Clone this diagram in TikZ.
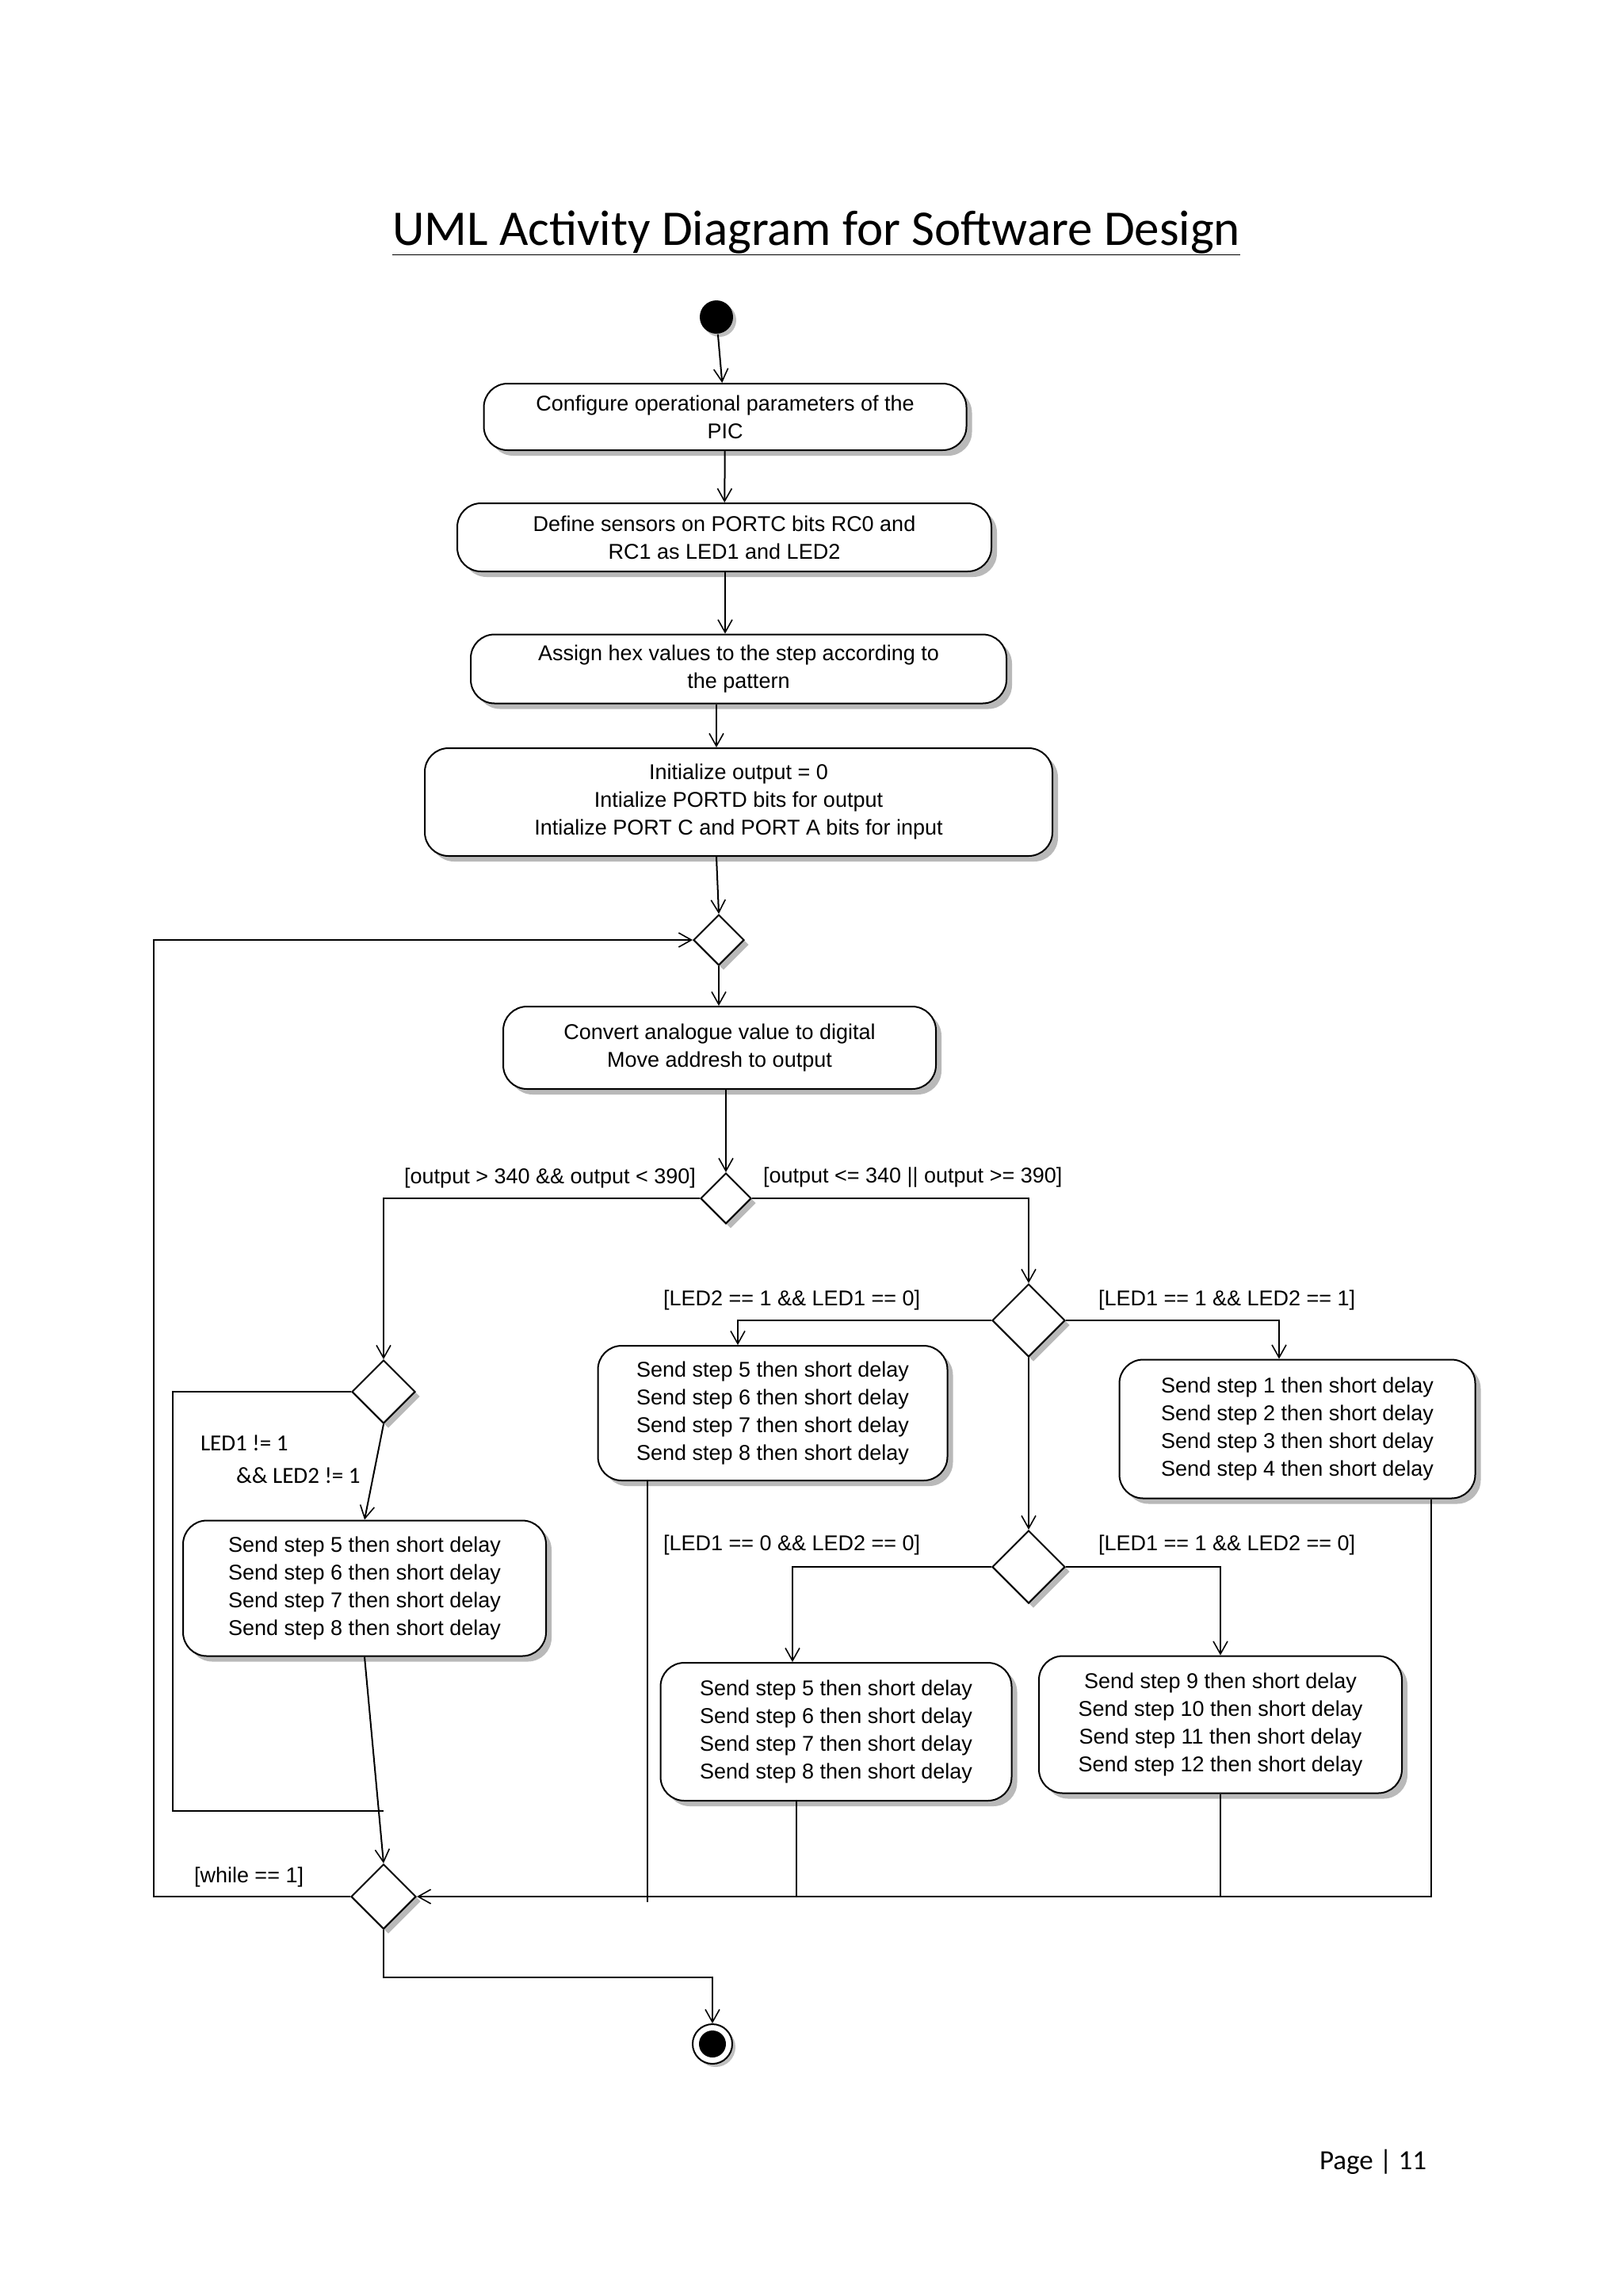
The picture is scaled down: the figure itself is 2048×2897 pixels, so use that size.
\documentclass[tikz,border=0pt]{standalone}
\usepackage{fontspec}
\setmainfont{Liberation Sans}
\newfontfamily\calib{Carlito}
\usetikzlibrary{arrows.meta,shadows,shapes.geometric}
\begin{document}
\begin{tikzpicture}[x=1pt,y=-1pt,line width=2pt,
  act/.style={draw,fill=white,rounded corners=30pt,align=center,inner sep=0pt,
    drop shadow={shadow xshift=7pt,shadow yshift=-7pt,fill=gray!55,opacity=1},
    font=\fontsize{27}{35}\selectfont},
  dia/.style={draw,fill=white,diamond,inner sep=0pt,minimum width=#1,minimum height=#1,
    drop shadow={shadow xshift=6pt,shadow yshift=-6pt,fill=gray!55,opacity=1}},
  arr/.style={-{Straight Barb[length=16pt,width=18pt,line width=1.6pt]}},
  lbl/.style={font=\fontsize{27}{33}\selectfont,inner sep=0pt}]
\useasboundingbox (0,0) rectangle (2048,2897);
\node[font=\calib\fontsize{63}{70}\selectfont] (title) at (1030,294) {\underline{UML Activity Diagram for Software Design}};
\node[circle,fill=black,minimum size=42pt,inner sep=0pt,drop shadow={shadow xshift=4pt,shadow yshift=-4pt,fill=gray!50,opacity=1}] (start) at (904,400) {};
\node[act,minimum width=609pt,minimum height=84pt] (b1) at (915,526) {Configure operational parameters of the\\PIC};
\node[act,minimum width=674pt,minimum height=86pt] (b2) at (914,678) {Define sensors on PORTC bits RC0 and\\RC1 as LED1 and LED2};
\node[act,minimum width=676pt,minimum height=87pt] (b3) at (932,844) {Assign hex values to the step according to\\the pattern};
\node[act,minimum width=792pt,minimum height=136pt] (b4) at (932,1012) {Initialize output = 0\\Intialize PORTD bits for output\\Intialize PORT C and PORT A bits for input};
\node[dia=64pt] (mg) at (907,1186) {};
\node[act,minimum width=546pt,minimum height=104pt] (b5) at (908,1322) {Convert analogue value to digital\\Move addresh to output};
\node[dia=64pt] (d1) at (916,1512) {};
\node[dia=80pt] (dl) at (484,1756) {};
\node[dia=92pt] (d2) at (1298,1666) {};
\node[dia=92pt] (d3) at (1298,1977) {};
\node[dia=82pt] (fd) at (484,2393) {};
\node[act,minimum width=458pt,minimum height=171pt] (bl) at (460,2004) {Send step 5 then short delay\\Send step 6 then short delay\\Send step 7 then short delay\\Send step 8 then short delay};
\node[act,minimum width=441pt,minimum height=170pt] (m1) at (975,1783) {Send step 5 then short delay\\Send step 6 then short delay\\Send step 7 then short delay\\Send step 8 then short delay};
\node[act,minimum width=449pt,minimum height=175pt] (r1) at (1637,1803) {Send step 1 then short delay\\Send step 2 then short delay\\Send step 3 then short delay\\Send step 4 then short delay};
\node[act,minimum width=443pt,minimum height=174pt] (m2) at (1055,2185) {Send step 5 then short delay\\Send step 6 then short delay\\Send step 7 then short delay\\Send step 8 then short delay};
\node[act,minimum width=458pt,minimum height=173pt] (r2) at (1540,2176) {Send step 9 then short delay\\Send step 10 then short delay\\Send step 11 then short delay\\Send step 12 then short delay};
\node[circle,draw,fill=white,minimum size=50pt,inner sep=0pt,drop shadow={shadow xshift=4pt,shadow yshift=-4pt,fill=gray!50,opacity=1}] (end) at (899,2579) {};
\fill (end.center) circle (17pt);
% labels
\node[lbl,anchor=east] (l1) at (879,1486) {[output > 340 \&\& output < 390]};
\node[lbl,anchor=west] (l2) at (962,1486) {[output <= 340 || output >= 390]};
\node[lbl,anchor=west] (l3) at (836,1640) {[LED2 == 1 \&\& LED1 == 0]};
\node[lbl,anchor=west] (l4) at (1385,1640) {[LED1 == 1 \&\& LED2 == 1]};
\node[lbl,anchor=west] (l5) at (836,1949) {[LED1 == 0 \&\& LED2 == 0]};
\node[lbl,anchor=west] (l6) at (1385,1949) {[LED1 == 1 \&\& LED2 == 0]};
\node[lbl,anchor=west] (l7) at (244,2368) {[while == 1]};
\node[lbl,anchor=west,font=\calib\fontsize{29}{35}\selectfont] (l8) at (252,1821) {LED1 != 1};
\node[lbl,anchor=west,font=\calib\fontsize{29}{35}\selectfont] (l9) at (297,1862) {\&\& LED2 != 1};
\node[lbl,anchor=west,font=\calib\fontsize{35}{40}\selectfont] (pg) at (1664,2728) {Page | 11};
% coordinates
\coordinate (tl) at (194,1186);
\coordinate (bl0) at (194,2393);
\coordinate (lp1) at (218,1756);
\coordinate (lp2) at (218,2285);
\coordinate (lp3) at (484,2285);
\coordinate (fb) at (484,2495);
% connectors
\draw[arr] (start) -- (b1);
\draw[arr] (b1) -- (b2);
\draw[arr] (b2.south -| b1.south) -- (b3.north -| b1.south);
\draw[arr] (b3.south -| start) -- (b4.north -| start);
\draw[arr] (b4.south -| start) -- (mg.north);
\draw[arr] (mg) -- (b5.north -| mg);
\draw[arr] (b5.south -| d1) -- (d1.north);
\draw[arr] (d1.west) -| (dl.north);
\draw[arr] (d1.east) -| (d2.north);
\draw[arr] (d2.west) -| ([xshift=-44pt]m1.north);
\draw[arr] (d2.east) -| ([xshift=-23pt]r1.north);
\draw[arr] (d2.south) -- (d3.north);
\draw[arr] (d3.west) -| ([xshift=-55pt]m2.north);
\draw[arr] (d3.east) -| (r2.north);
\draw[arr] (dl.south) -- (bl.north);
\draw (dl.west) -- (lp1) -- (lp2) -- (lp3);
\draw[arr] (bl.south) -- (fd.north);
\draw[arr] (fd.west) -- (bl0) -- (tl) -- (mg.west);
\draw[arr] ([xshift=169pt]r1.south) |- (fd.east);
\draw ([xshift=-158pt]m1.south) -- ++(0,531);
\draw ([xshift=-50pt]m2.south) -- ++(0,121);
\draw (r2.south) -- ++(0,130);
\draw[arr] (fd.south) -- (fb) -| (end.north);
\end{tikzpicture}
\end{document}
